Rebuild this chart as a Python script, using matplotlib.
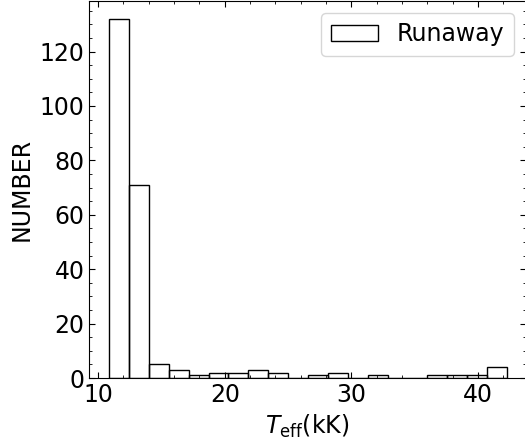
import numpy as np
import matplotlib
matplotlib.use('Agg')
import matplotlib.pyplot as plt

# histogram bins (kK) and counts
bin_edges = [10.87, 12.44, 14.01, 15.58, 17.15, 18.72, 20.29, 21.86, 23.43, 25.00,
             26.58, 28.15, 29.72, 31.29, 32.86, 34.43, 36.00, 37.57, 39.14, 40.71, 42.28]
counts = [132, 71, 5, 3, 1, 2, 2, 3, 2, 0,
          1, 2, 0, 1, 0, 0, 1, 1, 1, 4]
label = 'Runaway'

fs = 17
fig = plt.figure(figsize=(5.25, 4.44), dpi=100)
ax = fig.add_axes([89.3 / 525, 1 - 378 / 444, (525.5 - 89.3) / 525, (377 / 444)])

ax.hist(bin_edges[:-1], bins=bin_edges, weights=counts, histtype='bar',
        fill=False, edgecolor='black', linewidth=1.0, label=label)

ax.set_xlim(9.3, 43.75)
ax.set_ylim(0, 138.6)
ax.set_xticks([10, 20, 30, 40])
ax.set_xticks(np.arange(10, 44, 2), minor=True)
ax.set_yticks([0, 20, 40, 60, 80, 100, 120])
ax.set_yticks(np.arange(0, 139, 5), minor=True)
ax.tick_params(which='both', direction='in', top=True, right=True, labelsize=fs)
ax.tick_params(which='major', length=4.5)
ax.tick_params(which='minor', length=2.5)

ax.set_xlabel(r'$T_{\rm eff}$(kK)', fontsize=fs)
ax.set_ylabel('NUMBER', fontsize=fs)
ax.legend(loc='upper right', fontsize=fs)

fig.savefig('out.png', dpi=100)
